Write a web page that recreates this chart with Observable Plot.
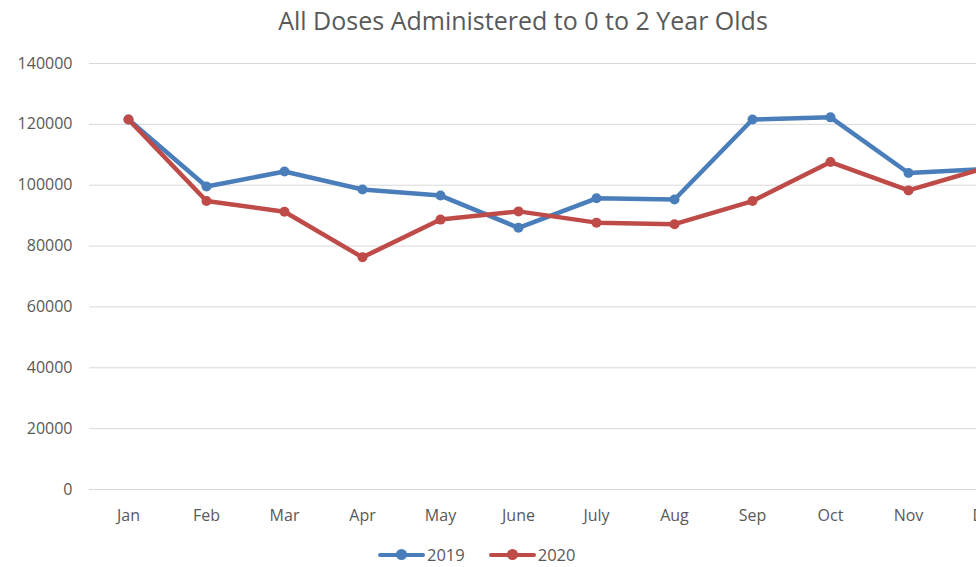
<!DOCTYPE html>
<html>
<head>
<meta charset="utf-8">
<script src="https://cdn.jsdelivr.net/npm/d3@7"></script>
<script src="https://cdn.jsdelivr.net/npm/@observablehq/plot@0.6"></script>
<style>
  html, body { margin: 0; padding: 0; background: #fff; overflow: hidden; width: 976px; height: 567px; }
  body { font-family: "Open Sans", "Liberation Sans", sans-serif; color: #595959; }
  #title { width: 1046px; height: 40px; line-height: 40px; text-align: center; font-size: 25px; color: #595959; white-space: nowrap; }
  #chart { width: 1030px; }
  #legend { position: absolute; top: 543px; left: 378px; display: flex; align-items: center; font-size: 16.5px; color: #595959; white-space: nowrap; }
  .item { display: flex; align-items: center; margin-right: 24px; }
  .sw { position: relative; width: 47px; height: 4px; border-radius: 2px; margin-right: 2px; }
  .sw::after { content: ""; position: absolute; left: 18px; top: -3.5px; width: 11px; height: 11px; border-radius: 50%; background: inherit; }
</style>
</head>
<body>
<div id="title">All Doses Administered to 0 to 2 Year Olds</div>
<div id="chart"></div>
<div id="legend"></div>
<script>
const months = ["Jan","Feb","Mar","Apr","May","June","July","Aug","Sep","Oct","Nov","Dec"];
const series = ["2019","2020"];
const values2019 = [121600, 99600, 104500, 98600, 96600, 86000, 95700, 95300, 121600, 122300, 104000, 105300];
const values2020 = [121600, 94800, 91300, 76300, 88700, 91400, 87700, 87200, 94800, 107600, 98300, 105800];
const yTicks = [0, 20000, 40000, 60000, 80000, 100000, 120000, 140000];
const colors = ["#4a7ebb", "#be4b48"];

const data = [];
months.forEach((m, i) => {
  data.push({month: m, year: series[0], value: values2019[i]});
  data.push({month: m, year: series[1], value: values2020[i]});
});

const chart = Plot.plot({
  width: 1030,
  height: 500,
  marginLeft: 89,
  marginRight: 5,
  marginTop: 23,
  marginBottom: 51,
  style: { fontFamily: "'Open Sans', 'Liberation Sans', sans-serif", fontSize: "16px", color: "#595959", background: "#fff" },
  x: { type: "point", domain: months, padding: 0.5, label: null },
  y: { domain: [0, 140000], label: null },
  color: { domain: series, range: colors },
  marks: [
    Plot.gridY(yTicks, { stroke: "#d9d9d9", strokeOpacity: 1, strokeWidth: 1 }),
    Plot.axisX({ tickSize: 0, tickPadding: 20, label: null, fill: "#595959" }),
    Plot.axisY({ ticks: yTicks, tickFormat: d => String(d), tickSize: 0, tickPadding: 17, label: null, fill: "#595959" }),
    Plot.line(data, { x: "month", y: "value", z: "year", stroke: "year", strokeWidth: 4.5, strokeLinejoin: "round", strokeLinecap: "round" }),
    Plot.dot(data, { x: "month", y: "value", fill: "year", r: 5 })
  ]
});
document.getElementById("chart").appendChild(chart);

const legend = document.getElementById("legend");
series.forEach((s, i) => {
  const item = document.createElement("div");
  item.className = "item";
  const sw = document.createElement("div");
  sw.className = "sw";
  sw.style.background = colors[i];
  const label = document.createElement("span");
  label.textContent = s;
  item.appendChild(sw);
  item.appendChild(label);
  legend.appendChild(item);
});
</script>
</body>
</html>
